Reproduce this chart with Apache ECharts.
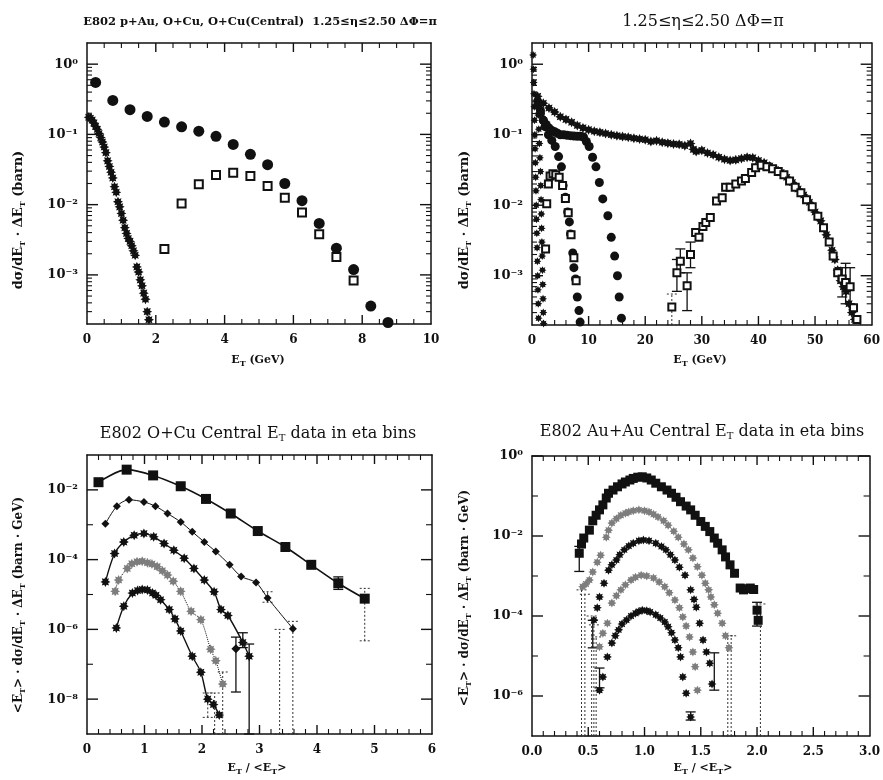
<!DOCTYPE html>
<html>
<head>
<meta charset="utf-8">
<title>E802 E_T spectra</title>
<script src="https://cdn.jsdelivr.net/npm/echarts@6.0.0/dist/echarts.min.js"></script>
<style>
  html, body { margin: 0; padding: 0; background: #fff; }
  #main { width: 883px; height: 780px; }
</style>
</head>
<body>
<div id="main"></div>
<script>
// ---- panel 1 (top left): E_T (GeV) vs dsigma/dE_T * dE_T (barn) ----
const p1Circles = [[0.25,0.55],[0.75,0.305],[1.25,0.225],[1.75,0.18],[2.25,0.15],[2.75,0.128],[3.25,0.111],[3.75,0.094],[4.25,0.072],[4.75,0.052],[5.25,0.037],[5.75,0.02],[6.25,0.0114],[6.75,0.0054],[7.25,0.0024],[7.75,0.00119],[8.25,0.00036],[8.75,0.00021]];
const p1Squares = [[2.25,0.00234],[2.75,0.0104],[3.25,0.0195],[3.75,0.0264],[4.25,0.0285],[4.75,0.0256],[5.25,0.0185],[5.75,0.0125],[6.25,0.0077],[6.75,0.0038],[7.25,0.0018],[7.75,0.00083]];
const p1Steep = [[0.05,0.175],[0.1,0.17],[0.15,0.16],[0.2,0.145],[0.25,0.13],[0.3,0.118],[0.35,0.103],[0.4,0.09],[0.45,0.078],[0.5,0.066],[0.55,0.055],[0.6,0.042],[0.65,0.035],[0.7,0.029],[0.75,0.024],[0.8,0.018],[0.85,0.015],[0.9,0.011],[0.95,0.0093],[1.0,0.0075],[1.05,0.006],[1.1,0.0047],[1.15,0.0039],[1.2,0.0033],[1.25,0.003],[1.3,0.0026],[1.35,0.0022],[1.4,0.0019],[1.45,0.0013],[1.5,0.0011],[1.55,0.00085],[1.6,0.0007],[1.65,0.00055],[1.7,0.00045],[1.75,0.0003],[1.8,0.00023]];

// ---- panel 2 (top right): same quantity, E_T up to 60 GeV ----
const p2ColA = [[0.2,1.35],[0.25,0.85],[0.3,0.55],[0.35,0.38],[0.4,0.25],[0.45,0.16],[0.5,0.1],[0.55,0.063],[0.6,0.04],[0.65,0.025],[0.7,0.016],[0.75,0.01],[0.8,0.0063],[0.85,0.004],[0.9,0.0025],[0.95,0.0016],[1.0,0.001],[1.05,0.00063],[1.1,0.0004],[1.15,0.00025]];
const p2ColB = [[1.0,0.3],[1.1,0.19],[1.2,0.12],[1.3,0.075],[1.4,0.047],[1.5,0.03],[1.55,0.019],[1.6,0.012],[1.65,0.0075],[1.7,0.0047],[1.75,0.003],[1.8,0.0019],[1.85,0.0012],[1.9,0.00075],[1.95,0.00047],[2.0,0.0003],[2.05,0.00021]];
const p2DropC = [[1.0,0.3],[1.5,0.22],[2.0,0.16],[2.3,0.13],[2.9,0.1],[3.5,0.083],[4.1,0.068],[4.7,0.049],[5.2,0.035],[5.5,0.019],[5.9,0.013],[6.3,0.008],[6.6,0.0058],[6.8,0.0039],[7.2,0.0021],[7.4,0.0013],[7.7,0.0009],[8.0,0.0005],[8.3,0.00032],[8.5,0.00022]];
const p2SmallSq = [[2.4,0.0024],[2.6,0.0105],[2.9,0.02],[3.2,0.026],[3.7,0.028],[4.2,0.027],[4.8,0.025],[5.4,0.019],[5.9,0.0125],[6.4,0.0078],[6.9,0.0038],[7.4,0.0018],[7.8,0.00085]];
const p2DropE = [[1.0,0.26],[1.5,0.2],[2.0,0.16],[2.5,0.14],[3.0,0.125],[3.5,0.115],[4.0,0.11],[4.5,0.105],[5.0,0.1],[5.6,0.1],[6.2,0.098],[6.8,0.097],[7.4,0.096],[8.0,0.095],[8.6,0.095],[9.1,0.093],[9.6,0.08],[10.1,0.068],[10.7,0.048],[11.3,0.035],[11.9,0.021],[12.5,0.0123],[13.4,0.0071],[14.0,0.0035],[14.6,0.0019],[15.1,0.001],[15.4,0.0005],[15.8,0.00025]];
const p2Long = [[1,0.35],[2,0.28],[3,0.24],[4,0.21],[5,0.18],[6,0.165],[7,0.15],[8,0.135],[9,0.125],[10,0.118],[11,0.112],[12,0.108],[13,0.104],[14,0.1],[15,0.097],[16,0.094],[17,0.092],[18,0.089],[19,0.087],[20,0.085],[21,0.08],[22,0.082],[23,0.078],[24,0.076],[25,0.074],[26,0.073],[27,0.07],[28,0.075],[28.5,0.062],[29,0.058],[30,0.06],[31,0.055],[32,0.052],[33,0.048],[34,0.045],[35,0.043],[36,0.044],[37,0.046],[38,0.048],[39,0.047],[40,0.043],[41,0.04],[42,0.036],[43,0.032],[44,0.029],[45,0.025],[46,0.021],[47,0.017],[48,0.014],[49,0.011],[50,0.008],[51,0.006],[52,0.0038],[53,0.0023],[53.5,0.0017],[54,0.0012],[54.5,0.00085],[55,0.0007],[55.5,0.0006],[56,0.0004],[56.5,0.0003],[57,0.00024]];
const p2BigSq = [[24.7,0.00036],[25.6,0.0011],[26.2,0.0016],[27.4,0.00072],[28,0.002],[28.9,0.0041],[29.5,0.0035],[30.2,0.005],[30.7,0.0057],[31.5,0.0067],[32.6,0.0115],[33.6,0.0128],[34.2,0.018],[35,0.018],[36,0.02],[37,0.022],[37.7,0.024],[38.8,0.029],[39.5,0.034],[40.5,0.037],[41.5,0.035],[42.5,0.033],[43.5,0.03],[44.5,0.027],[45.5,0.022],[46.5,0.018],[47.5,0.015],[48.5,0.012],[49.5,0.0095],[50.5,0.007],[51.5,0.0048],[52.5,0.003],[53.2,0.0019],[54,0.0011],[54.8,0.0009],[55.4,0.0008],[56.2,0.0007],[56.8,0.00035],[57.4,0.00024]];
const p2Bars = [[25.6,0.0006,0.0017],[26.2,0.0011,0.0024],[27.4,0.00032,0.0011],[28,0.0013,0.003],[54.8,0.0005,0.0013],[55.4,0.0004,0.0015],[56.2,0.0004,0.0013]];
const p2Dotted = [[24.7,0.0002,0.00055]];

// ---- panel 3 (bottom left): E_T/<E_T> vs <E_T> dsigma/dE_T dE_T, O+Cu ----
const p3S1 = [[0.2,0.0166],[0.69,0.038],[1.15,0.026],[1.63,0.0127],[2.07,0.0055],[2.5,0.0021],[2.97,0.00066],[3.45,0.00023],[3.9,7.1e-5],[4.37,2.1e-5],[4.83,7.6e-6]];
const p3S2 = [[0.32,0.00107],[0.52,0.0034],[0.73,0.0052],[0.99,0.0045],[1.19,0.0034],[1.4,0.0021],[1.63,0.0012],[1.83,0.00063],[2.04,0.00032],[2.24,0.00017],[2.48,7.1e-5],[2.68,3.3e-5],[2.94,2.2e-5],[3.14,8e-6],[3.58,1.05e-6]];
const p3S3 = [[0.32,2.3e-5],[0.48,0.00015],[0.64,0.00032],[0.82,0.0005],[0.99,0.00056],[1.16,0.00045],[1.34,0.00029],[1.51,0.000186],[1.69,0.00011],[1.86,5.6e-5],[2.04,2.6e-5],[2.21,1.2e-5],[2.33,3.7e-6],[2.45,2.5e-6],[2.71,4.2e-7],[2.82,1.7e-7]];
const p3S3Extra = [[2.59,2.8e-7]];
const p3S4 = [[0.49,1.23e-5],[0.55,2.6e-5],[0.7,5.6e-5],[0.78,7.6e-5],[0.87,8.7e-5],[0.96,9e-5],[1.05,8.1e-5],[1.13,7.5e-5],[1.22,6.3e-5],[1.31,4.8e-5],[1.4,3.6e-5],[1.5,2.4e-5],[1.63,1.23e-5],[1.81,3.3e-6],[1.98,1.9e-6],[2.15,2.7e-7],[2.24,1.26e-7],[2.36,2.7e-8]];
const p3S5 = [[0.51,1.1e-6],[0.64,4.6e-6],[0.79,1.1e-5],[0.88,1.3e-5],[0.96,1.4e-5],[1.05,1.35e-5],[1.14,1.1e-5],[1.2,9.5e-6],[1.28,7.1e-6],[1.43,3.7e-6],[1.53,2e-6],[1.63,9e-7],[1.83,1.7e-7],[1.98,5.9e-8],[2.1,1e-8],[2.2,7e-9],[2.3,3.5e-9]];
const p3Bars = [[4.37,1.4e-5,3.2e-5],[2.59,1.6e-8,6e-7],[2.71,3e-7,8e-7],[2.82,1e-9,3.8e-7]];
const p3Dotted = [[4.83,4.7e-7,1.5e-5],[3.58,1e-9,1.7e-6],[3.35,1e-9,1e-6],[3.14,6e-6,1.2e-5],[2.36,1e-9,6e-8],[2.22,1e-9,1.5e-8],[2.1,3e-9,1.5e-8]];

// ---- panel 4 (bottom right): Au+Au ----
const p4T1 = [[0.42,0.0037],[0.44,0.0063],[0.46,0.0089],[0.51,0.014],[0.54,0.024],[0.57,0.033],[0.6,0.045],[0.63,0.06],[0.66,0.089],[0.68,0.117],[0.72,0.141],[0.76,0.17],[0.8,0.2],[0.83,0.224],[0.87,0.251],[0.9,0.275],[0.94,0.295],[0.98,0.302],[1.02,0.282],[1.06,0.251],[1.1,0.209],[1.15,0.17],[1.2,0.141],[1.24,0.117],[1.28,0.093],[1.32,0.072],[1.37,0.056],[1.41,0.045],[1.45,0.033],[1.5,0.023],[1.54,0.0174],[1.58,0.0129],[1.62,0.0089],[1.65,0.0066],[1.69,0.0045],[1.72,0.003],[1.76,0.0019],[1.8,0.00117],[1.85,0.0005],[1.88,0.00045],[1.91,0.00048],[1.94,0.0005],[1.97,0.00046],[2.0,0.00014],[2.01,7.8e-5]];
const p4T2 = [[0.45,0.00054],[0.48,0.00063],[0.51,0.00079],[0.54,0.00126],[0.58,0.0022],[0.61,0.0033],[0.66,0.0093],[0.68,0.014],[0.71,0.021],[0.75,0.027],[0.79,0.033],[0.83,0.037],[0.86,0.04],[0.9,0.043],[0.95,0.045],[1.0,0.043],[1.04,0.04],[1.08,0.035],[1.12,0.03],[1.17,0.024],[1.21,0.0186],[1.26,0.0132],[1.3,0.0093],[1.35,0.0063],[1.39,0.0045],[1.43,0.0028],[1.47,0.0017],[1.51,0.00105],[1.54,0.00066],[1.57,0.00045],[1.59,0.0003],[1.62,0.00019],[1.65,0.000117],[1.69,6.6e-5],[1.72,3.2e-5],[1.75,1.6e-5]];
const p4T3 = [[0.55,7.9e-5],[0.58,0.00016],[0.6,0.0003],[0.64,0.00066],[0.68,0.0014],[0.71,0.0019],[0.75,0.0025],[0.78,0.0034],[0.82,0.0045],[0.86,0.0056],[0.9,0.0066],[0.95,0.0076],[0.99,0.0079],[1.04,0.0076],[1.1,0.0066],[1.15,0.0055],[1.19,0.0045],[1.23,0.0034],[1.27,0.0025],[1.31,0.00166],[1.36,0.00105],[1.41,0.00045],[1.44,0.00026],[1.46,0.000166],[1.49,6.6e-5],[1.52,2.5e-5],[1.55,1.26e-5],[1.58,6.6e-6],[1.6,2e-6]];
const p4T4 = [[0.6,1.7e-5],[0.63,3.7e-5],[0.67,6.6e-5],[0.71,0.00021],[0.75,0.00032],[0.79,0.00045],[0.83,0.0006],[0.88,0.00079],[0.92,0.00093],[0.97,0.00105],[1.02,0.001],[1.08,0.00089],[1.13,0.00071],[1.18,0.00054],[1.22,0.00038],[1.27,0.00025],[1.31,0.00016],[1.34,9.5e-5],[1.37,5.6e-5],[1.4,3e-5],[1.43,1.26e-5],[1.45,5.4e-6],[1.47,1.4e-6]];
const p4T5 = [[0.6,1.4e-6],[0.63,3e-6],[0.67,9.5e-6],[0.71,2.1e-5],[0.74,3.2e-5],[0.77,4.5e-5],[0.8,6.3e-5],[0.84,7.9e-5],[0.88,0.0001],[0.92,0.000117],[0.95,0.00013],[0.98,0.00014],[1.02,0.000135],[1.05,0.000126],[1.1,0.000107],[1.14,8.9e-5],[1.18,7.1e-5],[1.21,5.4e-5],[1.24,3.8e-5],[1.27,2.5e-5],[1.3,1.6e-5],[1.32,9.5e-6],[1.34,3e-6],[1.37,1.17e-6],[1.41,3e-7]];
const p4Bars = [[0.42,0.0013,0.0055],[0.54,1.6e-5,7.8e-5],[0.6,1.6e-6,5e-6],[1.62,1.4e-6,1.2e-5],[1.41,2.5e-7,4e-7],[2.0,5.6e-5,0.00022]];
const p4Dotted = [[0.44,1e-7,0.00045],[0.47,1e-7,0.00035],[0.53,1e-7,0.0001],[0.55,1e-7,6e-5],[0.57,1e-7,3e-5],[1.74,1e-7,3.2e-5],[1.77,1e-7,3.2e-5],[2.03,1e-7,0.0002]];

// ---- axis ranges and tick labels ----
const p1XRange = [0, 10, 2];      // min, max, label step
const p2XRange = [0, 60, 10];
const p3XRange = [0, 6, 1];
const p4XRange = [0, 3, 0.5];
const p1YRange = [2e-4, 2];
const p2YRange = [2e-4, 2];
const p3YRange = [1e-9, 0.1];
const p4YRange = [1e-7, 1];
const p1YExp = [-3, -2, -1, 0];   // labelled powers of ten
const p2YExp = [-3, -2, -1, 0];
const p3YExp = [-8, -6, -4, -2];
const p4YExp = [-6, -4, -2, 0];
const p3YOdd = [-7, -5, -3];      // unlabelled decade ticks
const p4YOdd = [-5, -3, -1];

const FONT = 'DejaVu Serif';
const INK = '#111';
const SUP = '⁰¹²³⁴⁵⁶⁷⁸⁹';
const powLabel = v => '10' + String(Math.round(v)).replace('-', '⁻').replace(/\d/g, d => SUP[d]);

function starPath(n, r1, r2) {
  let d = '';
  for (let i = 0; i < 2 * n; i++) {
    const r = i % 2 ? r2 : r1, a = Math.PI * i / n;
    d += (i ? 'L' : 'M') + (r * Math.sin(a)).toFixed(2) + ' ' + (-r * Math.cos(a)).toFixed(2);
  }
  return 'path://' + d + 'Z';
}
const STAR = starPath(8, 10, 6);

// y tick values on the log axis: [value, tick length]
function yTicks(range, majorExp, oddExp, fine) {
  const lo = range[0] * 1.0001, hi = range[1] / 1.0001, out = [];
  majorExp.forEach(e => out.push([Math.pow(10, e), 11]));
  if (fine) {
    for (let n = Math.floor(Math.log10(lo)); n <= Math.ceil(Math.log10(hi)); n++) {
      for (let k = 2; k < 10; k++) {
        const v = k * Math.pow(10, n);
        if (v > lo && v < hi) out.push([v, 5]);
      }
    }
  } else {
    oddExp.forEach(e => out.push([Math.pow(10, e), 6]));
  }
  return out;
}
// x tick values: [value, tick length]
function xTicks(xr, minor) {
  const out = [], step = xr[2] / minor, n = Math.round((xr[1] - xr[0]) / step);
  for (let k = 1; k < n; k++) out.push([+(xr[0] + k * step).toFixed(6), k % minor === 0 ? 9 : 5]);
  return out;
}

const panels = [
  { box: [87, 43, 344, 281], xr: p1XRange, minor: 4, digits: 0, yr: p1YRange, exp: p1YExp, yt: yTicks(p1YRange, p1YExp, [], true) },
  { box: [532, 43, 342, 282], xr: p2XRange, minor: 5, digits: 0, yr: p2YRange, exp: p2YExp, yt: yTicks(p2YRange, p2YExp, [], true) },
  { box: [87, 455, 345, 279], xr: p3XRange, minor: 5, digits: 0, yr: p3YRange, exp: p3YExp, yt: yTicks(p3YRange, p3YExp, p3YOdd, false) },
  { box: [532, 456, 342, 280], xr: p4XRange, minor: 5, digits: 1, yr: p4YRange, exp: p4YExp, yt: yTicks(p4YRange, p4YExp, p4YOdd, false) }
];

const lineOn = () => ({ show: true, onZero: false, lineStyle: { color: INK, width: 1.5 } });
const NY = 3; // y axes per panel: 0 log data axis, 1 left (labels), 2 right (frame)

const grid = [], xAxis = [], yAxis = [];
panels.forEach((p, i) => {
  grid.push({ left: p.box[0], top: p.box[1], width: p.box[2], height: p.box[3] });
  ['bottom', 'top'].forEach(pos => {
    xAxis.push({ type: 'value', gridIndex: i, position: pos, min: p.xr[0], max: p.xr[1], interval: p.xr[2],
      axisLine: lineOn(), splitLine: { show: false }, axisTick: { show: false }, minorTick: { show: false },
      axisLabel: pos === 'bottom'
        ? { formatter: v => v.toFixed(p.digits), fontFamily: FONT, fontWeight: 'bold', fontSize: 12, color: INK, margin: 10 }
        : { show: false } });
  });
  const lo = Math.log10(p.yr[0]), hi = Math.log10(p.yr[1]);
  yAxis.push({ type: 'log', gridIndex: i, min: p.yr[0], max: p.yr[1], show: false, axisLine: { show: false, onZero: false } });
  ['left', 'right'].forEach(pos => {
    yAxis.push({ type: 'value', gridIndex: i, position: pos, min: lo, max: hi, splitLine: { show: false },
      axisLine: lineOn(), axisTick: { show: false },
      axisLabel: pos === 'left'
        ? { customValues: p.exp, formatter: powLabel, fontFamily: FONT, fontWeight: 'bold', fontSize: 13, color: INK, margin: 9 }
        : { show: false } });
  });
});

// inward tick marks on all four sides, placed through the library's scales
function tickSeries(p, i) {
  const st = len => ({ stroke: INK, lineWidth: len > 6 ? 1.4 : 1.1 });
  return [
    { type: 'custom', xAxisIndex: 2 * i, yAxisIndex: NY * i, clip: false, z: 5,
      data: xTicks(p.xr, p.minor).map(t => [t[0], p.yr[0], t[1]]), encode: { x: 0, y: 1 },
      renderItem(params, api) {
        const x = api.value(0), len = api.value(2);
        const b = api.coord([x, p.yr[0]]), t = api.coord([x, p.yr[1]]);
        return { type: 'group', children: [
          { type: 'line', shape: { x1: b[0], y1: b[1], x2: b[0], y2: b[1] - len }, style: st(len) },
          { type: 'line', shape: { x1: t[0], y1: t[1], x2: t[0], y2: t[1] + len }, style: st(len) }
        ] };
      } },
    { type: 'custom', xAxisIndex: 2 * i, yAxisIndex: NY * i, clip: false, z: 5,
      data: p.yt.map(t => [p.xr[0], t[0], t[1]]), encode: { x: 0, y: 1 },
      renderItem(params, api) {
        const y = api.value(1), len = api.value(2);
        const l = api.coord([p.xr[0], y]), r = api.coord([p.xr[1], y]);
        return { type: 'group', children: [
          { type: 'line', shape: { x1: l[0], y1: l[1], x2: l[0] + len, y2: l[1] }, style: st(len) },
          { type: 'line', shape: { x1: r[0], y1: r[1], x2: r[0] - len, y2: r[1] }, style: st(len) }
        ] };
      } }
  ];
}

function scatter(p, data, symbol, size, color, hollow) {
  return { type: 'scatter', xAxisIndex: 2 * p, yAxisIndex: NY * p, data, symbol, symbolSize: size,
    itemStyle: hollow ? { color: INK, borderColor: INK, borderWidth: 1.5, opacity: 1 } : { color, opacity: 1 } };
}
function curve(p, data, symbol, size, color, type, width) {
  return { type: 'line', xAxisIndex: 2 * p, yAxisIndex: NY * p, data, symbol, symbolSize: size, showSymbol: true,
    smooth: 0.3, itemStyle: { color, opacity: 1 }, lineStyle: { color: INK, width, type } };
}
function errorBars(p, data, dotted) {
  return { type: 'custom', xAxisIndex: 2 * p, yAxisIndex: NY * p, data, encode: { x: 0, y: [1, 2] },
    renderItem(params, api) {
      const x = api.value(0);
      const a = api.coord([x, api.value(1)]);
      const b = api.coord([x, api.value(2)]);
      const style = { stroke: dotted ? '#333' : INK, lineWidth: dotted ? 1 : 1.3, lineDash: dotted ? [2, 2] : null };
      return { type: 'group', children: [
        { type: 'line', shape: { x1: a[0], y1: a[1], x2: b[0], y2: b[1] }, style },
        { type: 'line', shape: { x1: b[0] - 5, y1: b[1], x2: b[0] + 5, y2: b[1] }, style },
        { type: 'line', shape: { x1: a[0] - 5, y1: a[1], x2: a[0] + 5, y2: a[1] }, style }
      ] };
    } };
}

const GRAY = '#7d7d7d';
const series = [
  scatter(0, p1Steep, STAR, 10, INK),
  scatter(0, p1Circles, 'circle', 11, INK),
  scatter(0, p1Squares, 'emptyRect', 8, INK, true),

  errorBars(1, p2Bars, false),
  errorBars(1, p2Dotted, true),
  scatter(1, p2ColA, STAR, 8, INK),
  scatter(1, p2ColB, STAR, 8, INK),
  scatter(1, p2DropC, 'circle', 9, INK),
  scatter(1, p2SmallSq, 'emptyRect', 7, INK, true),
  scatter(1, p2DropE, 'circle', 9, INK),
  scatter(1, p2Long, STAR, 10, INK),
  scatter(1, p2BigSq, 'emptyRect', 7, INK, true),

  errorBars(2, p3Bars, false),
  errorBars(2, p3Dotted, true),
  curve(2, p3S1, 'rect', 10, INK, 'solid', 1.6),
  curve(2, p3S2, 'diamond', 8, INK, 'solid', 1),
  curve(2, p3S3, STAR, 10, INK, 'solid', 1.4),
  scatter(2, p3S3Extra, 'diamond', 9, INK),
  curve(2, p3S4, STAR, 10, GRAY, 'dotted', 1),
  curve(2, p3S5, STAR, 10, INK, 'solid', 1.4),

  errorBars(3, p4Bars, false),
  errorBars(3, p4Dotted, true),
  scatter(3, p4T1, 'rect', 9, INK),
  scatter(3, p4T2, STAR, 9, GRAY),
  scatter(3, p4T3, STAR, 9, INK),
  scatter(3, p4T4, STAR, 9, GRAY),
  scatter(3, p4T5, STAR, 9, INK)
];
panels.forEach((p, i) => series.push(...tickSeries(p, i)));

// titles and axis names
const sub = { fontFamily: FONT, fontWeight: 'bold', fontSize: 8, fill: INK, padding: [7, 0, 0, 0] };
const subN = { fontFamily: FONT, fontSize: 10, fill: INK, padding: [9, 0, 0, 0] };
function label(x, y, text, font, rich, rotation) {
  return { type: 'text', x, y, rotation: rotation || 0,
    style: { text, font, fill: INK, align: 'center', verticalAlign: 'middle', rich: rich ? { s: rich } : undefined } };
}
const graphic = [
  label(260, 22, 'E802 p+Au, O+Cu, O+Cu(Central)  1.25≤η≤2.50 ΔΦ=π', 'bold 11.5px "DejaVu Serif"'),
  label(703, 22, '1.25≤η≤2.50 ΔΦ=π', '16px "DejaVu Serif"'),
  label(258, 434, 'E802 O+Cu Central E{s|T} data in eta bins', '16px "DejaVu Serif"', subN),
  label(702, 432, 'E802 Au+Au Central E{s|T} data in eta bins', '16px "DejaVu Serif"', subN),
  label(258, 360, 'E{s|T} (GeV)', 'bold 11px "DejaVu Serif"', sub),
  label(700, 360, 'E{s|T} (GeV)', 'bold 11px "DejaVu Serif"', sub),
  label(257, 768, 'E{s|T} / <E{s|T}>', 'bold 11px "DejaVu Serif"', sub),
  label(703, 768, 'E{s|T} / <E{s|T}>', 'bold 11px "DejaVu Serif"', sub),
  label(19, 220, 'dσ/dE{s|T} · ΔE{s|T} (barn)', 'bold 13px "DejaVu Serif"', sub, Math.PI / 2),
  label(465, 220, 'dσ/dE{s|T} · ΔE{s|T} (barn)', 'bold 13px "DejaVu Serif"', sub, Math.PI / 2),
  label(19, 605, '<E{s|T}> · dσ/dE{s|T} · ΔE{s|T} (barn · GeV)', 'bold 12px "DejaVu Serif"', sub, Math.PI / 2),
  label(465, 598, '<E{s|T}> · dσ/dE{s|T} · ΔE{s|T} (barn · GeV)', 'bold 12px "DejaVu Serif"', sub, Math.PI / 2)
];

const chart = echarts.init(document.getElementById('main'));
chart.setOption({
  backgroundColor: '#fff',
  animation: false,
  grid, xAxis, yAxis, series, graphic
});
</script>
</body>
</html>
